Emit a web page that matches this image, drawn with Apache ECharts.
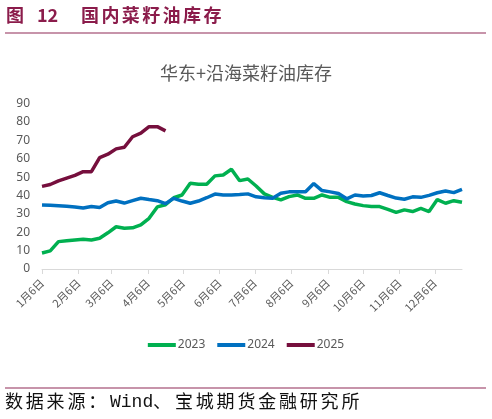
<!DOCTYPE html>
<html><head><meta charset="utf-8">
<script src="https://cdn.jsdelivr.net/npm/echarts@6/dist/echarts.min.js"></script>
<style>html,body{margin:0;padding:0;background:#fff}#c{width:492px;height:419px}</style>
</head><body><div id="c"></div>
<script>
// day offsets from Jan 6 for month-6th tick labels
const tickDays = [0,31,59,90,120,151,181,212,243,273,304,334];
const tickLabels = ['1月6日','2月6日','3月6日','4月6日','5月6日','6月6日','7月6日','8月6日','9月6日','10月6日','11月6日','12月6日'];
const yTicks = [0,10,20,30,40,50,60,70,80,90];
// weekly values (one per week from Jan 6)
const s2023 = [8.7,9.9,14.9,15.4,15.8,16.2,15.8,16.7,19.7,23,22.2,22.4,24,27.6,33.8,35,38.8,40.3,46.7,46.1,46.1,50.7,51.2,54.3,48.1,49,45.2,40.9,39,37.6,39.4,40.3,38.5,38.5,40.3,39,39,36.7,35.4,34.5,34,34,32.5,30.8,32.2,31.3,33,31.3,37.8,35.8,37.2,36.3];
const s2024 = [34.9,34.7,34.5,34.2,33.8,33.2,34,33.5,36.1,37,35.9,37.2,38.5,37.8,37.2,35.6,38.5,37,35.8,37,38.8,40.8,40.3,40.3,40.5,40.9,39.3,38.8,38.5,41.2,42,42.1,42.1,46.5,42.7,42,41.1,38.2,40.3,39.8,40,41.5,40,38.6,38,39.3,39,40.1,41.5,42.5,41.6,43.4];
const s2025 = [45,46,48,49.5,51,53,53,60.7,62.5,65.4,66.3,72,74,77.5,77.5,75.2];
const names = ['2023','2024','2025'];
const colors = ['#00B050','#0070C0','#760F3D'];

function toPairs(arr){ return arr.map((v,i)=>[i*7, v]); }
function spaced(txt, x, y, pitch, font, fill){
  return Array.from(txt).map((ch,i)=>({type:'text', x:x+i*pitch, y:y, style:{text:ch, fill:fill, font:font}}));
}
const hFont = 'bold 18px "Noto Sans CJK SC"', hCol = '#8B1C4B';
const sFont = '18px "Noto Sans CJK SC"', sCol = '#111';

const chart = echarts.init(document.getElementById('c'));
chart.setOption({
  animation:false,
  backgroundColor:'#fff',
  title:{text:'华东+沿海菜籽油库存', left:'center', top:59,
    textStyle:{color:'#595959', fontSize:18, fontWeight:'normal', fontFamily:'Noto Sans CJK SC'}},
  graphic:[
    {type:'text', x:6, y:6, style:{text:'图', fill:hCol, font:hFont}},
    {type:'text', x:37, y:6, style:{text:'12', fill:hCol, font:hFont}},
    ...spaced('国内菜籽油库存', 81, 6, 20.4, hFont, hCol),
    {type:'line', shape:{x1:5,y1:33,x2:486,y2:33}, style:{stroke:'#B5718E', lineWidth:1.5}},
    {type:'line', shape:{x1:5,y1:388,x2:486,y2:388}, style:{stroke:'#B5718E', lineWidth:1.5}},
    ...spaced('数据来源：', 5, 392, 20.8, sFont, sCol),
    {type:'text', x:110, y:393, style:{text:'Wind', fill:sCol, font:'18px "Liberation Mono"'}},
    {type:'text', x:153, y:392, style:{text:'、', fill:sCol, font:sFont}},
    ...spaced('宝城期货金融研究所', 175, 392, 20.8, sFont, sCol)
  ],
  legend:{data:names, bottom:63, left:'center', itemWidth:28, itemHeight:4, itemGap:12,
    icon:'rect', textStyle:{color:'#595959', fontSize:12, fontFamily:'Noto Sans', padding:[0,0,0,-3]}},
  grid:{left:42, right:30, top:103.7, bottom:150},
  xAxis:{type:'value', min:0, max:357, splitLine:{show:false},
    axisLine:{show:true, lineStyle:{color:'#D9D9D9', width:1}},
    axisTick:{show:true, customValues:tickDays, length:5, lineStyle:{color:'#D9D9D9'}},
    axisLabel:{customValues:tickDays, rotate:45, color:'#595959', fontSize:11, fontFamily:'Noto Sans CJK SC', margin:12,
      formatter:(v)=>{const i=tickDays.indexOf(v); return i>=0?tickLabels[i]:'';}}},
  yAxis:{type:'value', min:0, max:90, interval:10, splitLine:{show:false},
    axisLine:{show:false}, axisTick:{show:false},
    axisLabel:{color:'#595959', fontSize:12, fontFamily:'Noto Sans', margin:12}},
  series:[s2023,s2024,s2025].map((d,k)=>({
    name:names[k], type:'line', data:toPairs(d), symbol:'none',
    lineStyle:{color:colors[k], width:3.5}, itemStyle:{color:colors[k]}
  }))
});
</script></body></html>
